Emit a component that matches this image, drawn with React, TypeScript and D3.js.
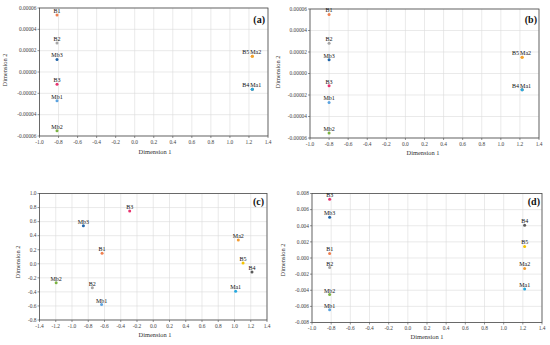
import React from "react";
import * as d3 from "d3";

const names = ["B1", "B2", "B3", "B4", "B5", "Mb1", "Mb2", "Mb3", "Ma1", "Ma2"];
const colors = ["#f07f4f", "#a6a6a6", "#e8336e", "#5a5a5a", "#f5c400", "#5ba3e0", "#7cb342", "#2266aa", "#26a9e0", "#f39c33"];

const aX = [-0.816, -0.816, -0.816, 1.235, 1.235, -0.816, -0.816, -0.816, 1.235, 1.235];
const aY = [0.0000535, 0.0000272, -0.0000114, -0.0000161, 0.0000148, -0.0000269, -0.000055, 0.0000118, -0.0000161, 0.0000148];
const bX = [-0.8, -0.8, -0.8, 1.223, 1.223, -0.8, -0.8, -0.8, 1.223, 1.223];
const bY = [0.000055, 0.0000281, -0.0000114, -0.0000152, 0.0000152, -0.0000269, -0.0000554, 0.0000127, -0.0000152, 0.0000152];
const cX = [-0.63, -0.75, -0.29, 1.215, 1.105, -0.636, -1.195, -0.86, 1.014, 1.047];
const cY = [0.15, -0.34, 0.75, -0.117, 0.01, -0.58, -0.27, 0.54, -0.39, 0.34];
const dX = [-0.816, -0.816, -0.816, 1.219, 1.219, -0.816, -0.816, -0.816, 1.219, 1.219];
const dY = [0.00056, -0.00118, 0.0073, 0.00407, 0.00143, -0.00643, -0.00453, 0.00506, -0.00386, -0.0013];

const xTicksAB = [-1.0, -0.8, -0.6, -0.4, -0.2, 0.0, 0.2, 0.4, 0.6, 0.8, 1.0, 1.2, 1.4];
const xTicksC = [-1.4, -1.2, -1.0, -0.8, -0.6, -0.4, -0.2, 0.0, 0.2, 0.4, 0.6, 0.8, 1.0, 1.2, 1.4];
const yTicksAB = [0.00006, 0.00004, 0.00002, 0, -0.00002, -0.00004, -0.00006];
const yTicksC = [1.0, 0.8, 0.6, 0.4, 0.2, 0.0, -0.2, -0.4, -0.6, -0.8];
const yTicksD = [0.008, 0.006, 0.004, 0.002, 0, -0.002, -0.004, -0.006, -0.008];

const FONT = "'Liberation Serif', 'DejaVu Serif', serif";

type PanelProps = {
  left: number; right: number; top: number; bottom: number;
  xs: number[]; ys: number[];
  xTicks: number[]; yTicks: number[];
  yDigits: number;
  tag: string;
  tagX: number; tagY: number;
  x1X: number; x1Y: number; y2X: number; y2Y: number;
  shift: Record<string, number>;
};

function fmt(v: number, digits: number) {
  return Math.abs(v) < 1e-12 ? (0).toFixed(digits) : v.toFixed(digits);
}

function Panel(p: PanelProps) {
  const x = d3.scaleLinear().domain([p.xTicks[0], p.xTicks[p.xTicks.length - 1]]).range([p.left, p.right]);
  const y = d3.scaleLinear().domain([p.yTicks[p.yTicks.length - 1], p.yTicks[0]]).range([p.bottom, p.top]);
  return (
    <g fontFamily={FONT}>
      {p.xTicks.map((t, i) => (
        <line key={"gx" + i} x1={x(t)} x2={x(t)} y1={p.top} y2={p.bottom} stroke="#dcdcdc" strokeWidth={0.6} />
      ))}
      {p.yTicks.map((t, i) => (
        <line key={"gy" + i} x1={p.left} x2={p.right} y1={y(t)} y2={y(t)} stroke="#dcdcdc" strokeWidth={0.6} />
      ))}
      <rect x={p.left} y={p.top} width={p.right - p.left} height={p.bottom - p.top} fill="none" stroke="#4a4a4a" strokeWidth={0.8} />
      {p.xTicks.map((t, i) => (
        <g key={"tx" + i}>
          <line x1={x(t)} x2={x(t)} y1={p.bottom} y2={p.bottom + 2} stroke="#4a4a4a" strokeWidth={0.6} />
          <text x={x(t)} y={p.bottom + 7.5} fontSize={5.4} textAnchor="middle" fill="#444">{t.toFixed(1)}</text>
        </g>
      ))}
      {p.yTicks.map((t, i) => (
        <g key={"ty" + i}>
          <line x1={p.left - 2} x2={p.left} y1={y(t)} y2={y(t)} stroke="#4a4a4a" strokeWidth={0.6} />
          <text x={p.left - 3} y={y(t) + 1.8} fontSize={5.4} textAnchor="end" fill="#444">{fmt(t, p.yDigits)}</text>
        </g>
      ))}
      <text x={p.x1X} y={p.x1Y} fontSize={6.4} textAnchor="middle" fill="#333">Dimension 1</text>
      <text transform={`translate(${p.y2X},${p.y2Y}) rotate(-90)`} fontSize={6.4} textAnchor="middle" fill="#333">Dimension 2</text>
      <text x={p.tagX} y={p.tagY} fontSize={10} fontWeight="bold" textAnchor="end" fill="#111">{p.tag}</text>
      {names.map((n, i) => (
        <g key={"p" + i}>
          <circle cx={x(p.xs[i])} cy={y(p.ys[i])} r={1.5} fill={colors[i]} />
          <text x={x(p.xs[i]) + (p.shift[n] || 0)} y={y(p.ys[i]) - 2} fontSize={6} textAnchor="middle" fill="#111">{n}</text>
        </g>
      ))}
    </g>
  );
}

export default function App() {
  const abShift = { B5: -6.5, Ma2: 3.5, B4: -6.5, Ma1: 3.5 };
  return (
    <svg width={550} height={345} style={{ position: "absolute", left: 0, top: 0, background: "#fff" }}>
      <Panel left={39.5} right={268} top={8} bottom={136} xs={aX} ys={aY} xTicks={xTicksAB} yTicks={yTicksAB} yDigits={5}
        tag="(a)" tagX={265} tagY={23} x1X={155} x1Y={154} y2X={7} y2Y={70} shift={abShift} />
      <Panel left={310} right={539} top={9} bottom={138} xs={bX} ys={bY} xTicks={xTicksAB} yTicks={yTicksAB} yDigits={5}
        tag="(b)" tagX={537} tagY={23} x1X={423} x1Y={155} y2X={280} y2Y={72} shift={abShift} />
      <Panel left={39.5} right={267} top={193.5} bottom={320} xs={cX} ys={cY} xTicks={xTicksC} yTicks={yTicksC} yDigits={1}
        tag="(c)" tagX={264} tagY={205} x1X={155} x1Y={337} y2X={20} y2Y={262} shift={{}} />
      <Panel left={312} right={542} top={193.5} bottom={322.5} xs={dX} ys={dY} xTicks={xTicksAB} yTicks={yTicksD} yDigits={3}
        tag="(d)" tagX={540} tagY={205} x1X={427} x1Y={339} y2X={285} y2Y={260} shift={{}} />
    </svg>
  );
}
